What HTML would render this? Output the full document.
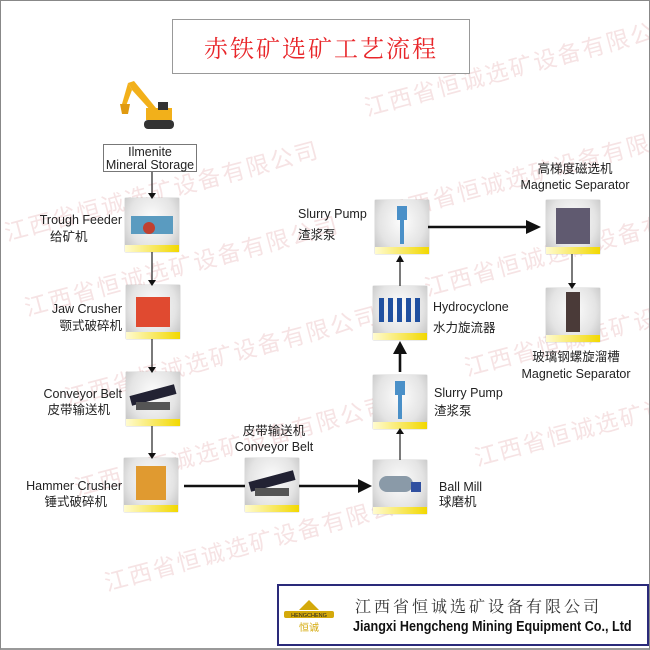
<!DOCTYPE html>
<html><head><meta charset="utf-8"><style>
*{margin:0;padding:0;box-sizing:border-box}
body{width:650px;height:650px;position:relative;background:#fff;overflow:hidden;font-family:"Liberation Sans","Noto Sans CJK SC",sans-serif;color:#222}
.frame{position:absolute;left:0;top:0;width:650px;height:650px;border:1px solid #888;border-bottom:2px solid #999}
.wm{position:absolute;color:#f6e3e4;font-size:23px;font-family:"Noto Sans CJK SC",sans-serif;white-space:nowrap;transform:rotate(-15deg);transform-origin:left top;letter-spacing:2px}
.th{position:absolute;width:54px;height:54px;background:radial-gradient(ellipse at 50% 40%,#fdfdfd 0%,#e4e4e4 60%,#bdbdbd 100%);box-shadow:0 0 1px #999}
.th::after{content:"";position:absolute;left:0;right:0;bottom:0;height:7px;background:linear-gradient(90deg,#fffbd0,#f2d800)}
.th i{position:absolute}
.lb{position:absolute;font-size:12.5px;white-space:nowrap;line-height:15px}
.r{text-align:right}
.c{text-align:center}
</style></head><body>
<div class="wm" style="left:360px;top:90px">江西省恒诚选矿设备有限公司</div>
<div class="wm" style="left:0;top:215px">江西省恒诚选矿设备有限公司</div>
<div class="wm" style="left:380px;top:195px">江西省恒诚选矿设备有限公司</div>
<div class="wm" style="left:20px;top:290px">江西省恒诚选矿设备有限公司</div>
<div class="wm" style="left:420px;top:270px">江西省恒诚选矿设备有限公司</div>
<div class="wm" style="left:60px;top:380px">江西省恒诚选矿设备有限公司</div>
<div class="wm" style="left:460px;top:350px">江西省恒诚选矿设备有限公司</div>
<div class="wm" style="left:70px;top:470px">江西省恒诚选矿设备有限公司</div>
<div class="wm" style="left:470px;top:440px">江西省恒诚选矿设备有限公司</div>
<div class="wm" style="left:100px;top:565px">江西省恒诚选矿设备有限公司</div>

<div style="position:absolute;left:172px;top:19px;width:298px;height:55px;border:1px solid #999;background:#fff;color:#e8262a;font-size:24px;text-align:center;line-height:53px;font-family:'Noto Serif CJK SC',serif;letter-spacing:2px">赤铁矿选矿工艺流程</div>

<svg style="position:absolute;left:118px;top:78px" width="60" height="58">
<path d="M10 5 L16 3 L38 30 L34 34 L14 12 Z" fill="#f2b01a"/>
<path d="M10 5 L14 12 L8 28 L4 26 Z" fill="#f2b01a"/>
<path d="M2 26 L12 26 L10 36 L4 36 Z" fill="#e09a10"/>
<rect x="28" y="30" width="26" height="12" fill="#f2b01a"/>
<rect x="40" y="24" width="10" height="8" fill="#333"/>
<rect x="26" y="42" width="30" height="9" rx="4" fill="#333"/>
</svg>
<div style="position:absolute;left:103px;top:144px;width:94px;height:28px;border:1px solid #777;background:#fff;font-size:12.5px;line-height:13px;text-align:center;padding-top:1px">Ilmenite<br>Mineral Storage</div>

<div class="th" style="left:125px;top:198px"><i style="left:6px;top:18px;width:42px;height:18px;background:#5a9bc0"></i><i style="left:18px;top:24px;width:12px;height:12px;border-radius:50%;background:#c04030"></i></div>
<div class="th" style="left:126px;top:285px"><i style="left:10px;top:12px;width:34px;height:30px;background:#e04a30"></i></div>
<div class="th" style="left:126px;top:372px"><i style="left:4px;top:18px;width:46px;height:10px;background:#223;transform:rotate(-15deg)"></i><i style="left:10px;top:30px;width:34px;height:8px;background:#555"></i></div>
<div class="th" style="left:124px;top:458px"><i style="left:12px;top:8px;width:30px;height:34px;background:#e09a30"></i></div>
<div class="th" style="left:245px;top:458px"><i style="left:4px;top:18px;width:46px;height:10px;background:#223;transform:rotate(-15deg)"></i><i style="left:10px;top:30px;width:34px;height:8px;background:#555"></i></div>
<div class="th" style="left:373px;top:460px"><i style="left:6px;top:16px;width:34px;height:16px;border-radius:8px;background:#8a9aa8"></i><i style="left:38px;top:22px;width:10px;height:10px;background:#3050a0"></i></div>
<div class="th" style="left:373px;top:375px"><i style="left:22px;top:6px;width:10px;height:14px;background:#4a90c8"></i><i style="left:25px;top:18px;width:4px;height:26px;background:#4a90c8"></i></div>
<div class="th" style="left:373px;top:286px"><i style="left:6px;top:12px;width:42px;height:24px;background:repeating-linear-gradient(90deg,#2050a0 0 5px,transparent 5px 9px)"></i></div>
<div class="th" style="left:375px;top:200px"><i style="left:22px;top:6px;width:10px;height:14px;background:#4a90c8"></i><i style="left:25px;top:18px;width:4px;height:26px;background:#4a90c8"></i></div>
<div class="th" style="left:546px;top:200px"><i style="left:10px;top:8px;width:34px;height:36px;background:#605a70"></i></div>
<div class="th" style="left:546px;top:288px"><i style="left:20px;top:4px;width:14px;height:40px;background:#4a3a38"></i></div>

<div class="lb r" style="right:528px;top:213px">Trough Feeder</div>
<div class="lb" style="left:50px;top:230px">给矿机</div>
<div class="lb r" style="right:528px;top:302px">Jaw Crusher</div>
<div class="lb r" style="right:528px;top:319px">颚式破碎机</div>
<div class="lb r" style="right:528px;top:387px">Conveyor Belt</div>
<div class="lb r" style="right:540px;top:403px">皮带输送机</div>
<div class="lb r" style="right:528px;top:479px">Hammer Crusher</div>
<div class="lb r" style="right:543px;top:495px">锤式破碎机</div>
<div class="lb c" style="left:224px;width:100px;top:424px">皮带输送机</div>
<div class="lb c" style="left:224px;width:100px;top:440px">Conveyor Belt</div>
<div class="lb" style="left:439px;top:480px">Ball Mill</div>
<div class="lb" style="left:439px;top:495px">球磨机</div>
<div class="lb" style="left:434px;top:386px">Slurry Pump</div>
<div class="lb" style="left:434px;top:404px">渣浆泵</div>
<div class="lb" style="left:433px;top:300px">Hydrocyclone</div>
<div class="lb" style="left:433px;top:321px">水力旋流器</div>
<div class="lb" style="left:298px;top:207px">Slurry Pump</div>
<div class="lb" style="left:298px;top:228px">渣浆泵</div>
<div class="lb c" style="left:505px;width:140px;top:162px">高梯度磁选机</div>
<div class="lb c" style="left:505px;width:140px;top:178px">Magnetic Separator</div>
<div class="lb c" style="left:506px;width:140px;top:350px">玻璃钢螺旋溜槽</div>
<div class="lb c" style="left:506px;width:140px;top:367px">Magnetic Separator</div>

<svg style="position:absolute;left:0;top:0" width="650" height="650">
<g stroke="#222" stroke-width="1.2" fill="none">
<line x1="152" y1="172" x2="152" y2="193"/>
<line x1="152" y1="252" x2="152" y2="280"/>
<line x1="152" y1="339" x2="152" y2="367"/>
<line x1="152" y1="426" x2="152" y2="453"/>
<line x1="400" y1="460" x2="400" y2="434"/>
<line x1="400" y1="286" x2="400" y2="262"/>
<line x1="572" y1="254" x2="572" y2="283"/>
</g>
<g stroke="#111" stroke-width="2.6">
<line x1="184" y1="486" x2="245" y2="486"/>
<line x1="299" y1="486" x2="360" y2="486"/>
<line x1="400" y1="372" x2="400" y2="352"/>
<line x1="428" y1="227" x2="528" y2="227"/>
</g>
<g fill="#111">
<polygon points="148,193 156,193 152,199"/>
<polygon points="148,280 156,280 152,286"/>
<polygon points="148,367 156,367 152,373"/>
<polygon points="148,453 156,453 152,459"/>
<polygon points="396,434 404,434 400,428"/>
<polygon points="396,262 404,262 400,255"/>
<polygon points="568,283 576,283 572,289"/>
<polygon points="358,479 372,486 358,493"/>
<polygon points="393,354 407,354 400,341"/>
<polygon points="526,220 541,227 526,234"/>
</g>
</svg>

<div style="position:absolute;left:277px;top:584px;width:372px;height:62px;border:2px solid #2a2a7a;background:#fff;overflow:hidden">
<svg style="position:absolute;left:4px;top:12px" width="52" height="36">
<polygon points="26,2 36,12 16,12" fill="#d4a90a"/>
<rect x="1" y="13" width="50" height="7" rx="2" fill="#d4a90a"/>
<text x="26" y="19" font-size="5.5" fill="#222" text-anchor="middle" font-family="Liberation Sans">HENGCHENG</text>
<text x="26" y="33" font-size="10" fill="#d4a90a" text-anchor="middle" font-family="Noto Sans CJK SC">恒诚</text>
</svg>
<div style="position:absolute;left:76px;top:8px;font-size:16px;letter-spacing:3px;color:#333;font-family:'Noto Serif CJK SC',serif;white-space:nowrap">江西省恒诚选矿设备有限公司</div>
<div style="position:absolute;left:74px;top:32px;font-size:15px;font-weight:bold;color:#111;white-space:nowrap;transform:scaleX(0.84);transform-origin:left">Jiangxi Hengcheng Mining Equipment Co., Ltd</div>
</div>
<div class="frame"></div>
</body></html>
